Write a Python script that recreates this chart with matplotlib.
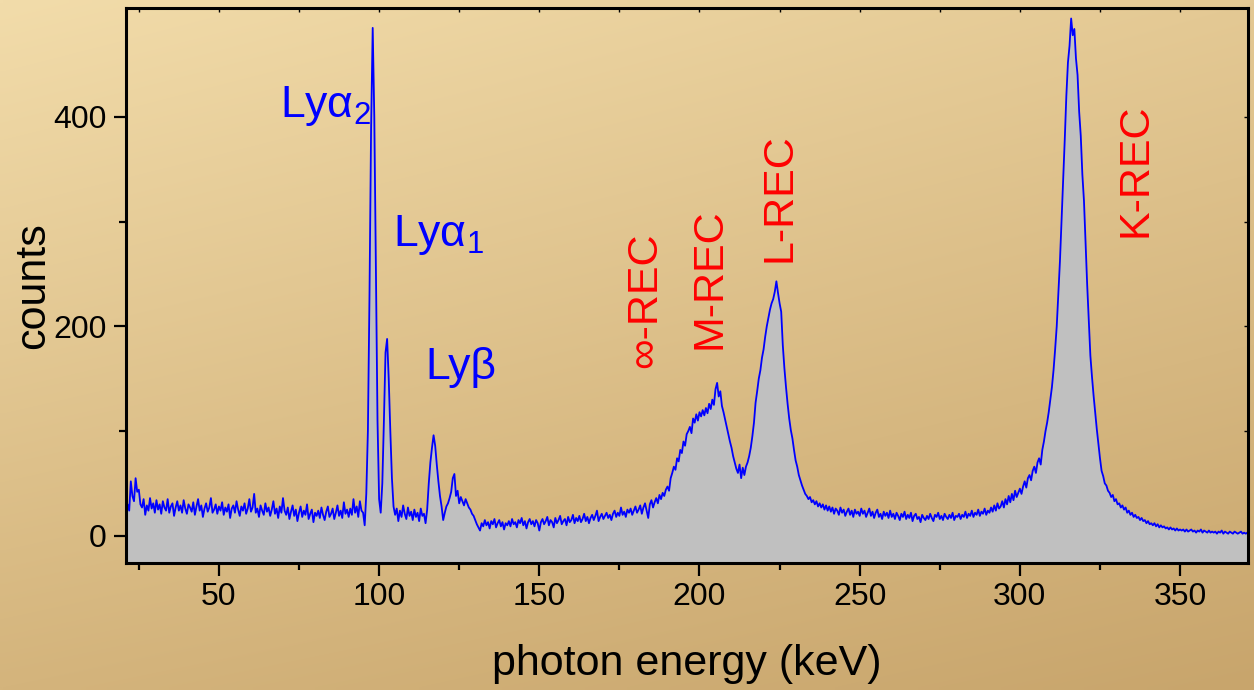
import numpy as np
import matplotlib
matplotlib.use('Agg')
import matplotlib.pyplot as plt
from matplotlib.ticker import MultipleLocator, FixedLocator

plt.rcParams.update({'font.family': ['Liberation Sans', 'DejaVu Sans'],
                     'mathtext.fontset': 'custom',
                     'mathtext.rm': 'Liberation Sans',
                     'mathtext.it': 'Liberation Sans:italic'})

# spectrum, one value per 0.5 keV starting at 21 keV
e_start = 21.0
e_step = 0.5
counts = [
    18, 30, 24, 52, 38, 33, 55, 42, 44, 30, 27, 35, 20, 29, 24, 36, 26, 31, 22, 34,          # 21-30.5
    25, 30, 21, 33, 27, 24, 35, 22, 28, 31, 19, 27, 33, 24, 29, 22, 34, 26, 21, 30,          # 31-40.5
    27, 23, 32, 20, 28, 35, 24, 29, 18, 26, 31, 23, 27, 36, 22, 25, 30, 21, 28, 24,          # 41-50.5
    32, 20, 27, 23, 30, 17, 26, 29, 22, 33, 25, 19, 28, 24, 31, 21, 26, 35, 23, 27,          # 51-60.5
    40, 22, 26, 18, 29, 24, 20, 31, 23, 27, 19, 25, 33, 21, 26, 17, 28, 22, 36, 24,          # 61-70.5
    20, 27, 16, 23, 29, 19, 25, 14, 22, 28, 18, 24, 20, 30, 16, 21, 25, 13, 22, 19,          # 71-80.5
    24, 17, 27, 20, 15, 23, 28, 18, 21, 26, 16, 22, 29, 19, 24, 17, 32, 21, 25, 18,          # 81-90.5
    26, 20, 35, 22, 28, 18, 33, 24, 22, 10, 40, 100, 230, 390, 485, 400, 250, 110, 35, 22,   # 91-100.5
    50, 110, 175, 188, 150, 100, 55, 28, 20, 26, 14, 24, 18, 29, 21, 16, 27, 19, 23, 15,     # 101-110.5
    25, 18, 22, 14, 26, 19, 21, 12, 25, 50, 70, 84, 96, 86, 68, 52, 38, 28, 15, 22,          # 111-120.5
    28, 31, 36, 42, 55, 59, 38, 43, 31, 37, 33, 29, 35, 31, 27, 25, 21, 19, 15, 11,          # 121-130.5
    8, 5, 12, 9, 15, 10, 13, 7, 14, 11, 16, 8, 12, 15, 9, 13, 6, 12, 10, 14,                 # 131-140.5
    9, 16, 11, 13, 8, 15, 12, 17, 10, 14, 7, 13, 16, 11, 14, 9, 15, 12, 5, 13,               # 141-150.5
    16, 11, 14, 18, 10, 15, 13, 8, 17, 12, 15, 19, 11, 14, 16, 10, 18, 13, 15, 20,           # 151-160.5
    12, 17, 14, 19, 13, 16, 21, 14, 18, 12, 17, 20, 15, 19, 24, 14, 18, 21, 16, 19,          # 161-170.5
    22, 17, 20, 15, 21, 24, 18, 22, 19, 27, 20, 23, 18, 25, 22, 26, 20, 24, 28, 22,          # 171-180.5
    25, 29, 21, 27, 31, 24, 17, 30, 34, 27, 32, 36, 31, 39, 35, 41, 38, 44, 47, 43,          # 181-190.5
    55, 60, 66, 63, 74, 71, 82, 79, 90, 86, 97, 100, 104, 98, 112, 108, 116, 110, 118, 114,  # 191-200.5
    120, 115, 122, 117, 126, 121, 130, 125, 140, 146, 133, 138, 124, 118, 111, 104, 97, 90, 84, 76,      # 201-210.5
    70, 64, 60, 68, 55, 65, 58, 66, 70, 76, 84, 95, 108, 127, 138, 150, 158, 170, 178, 190,              # 211-220.5
    200, 208, 216, 222, 226, 233, 243, 232, 222, 214, 182, 160, 142, 126, 112, 101, 93, 82, 72, 66,      # 221-230.5
    58, 53, 48, 44, 40, 38, 35, 37, 32, 34, 30, 33, 28, 31, 27, 30, 25, 29, 24, 28,          # 231-240.5
    23, 27, 21, 26, 24, 20, 27, 22, 25, 19, 23, 26, 20, 24, 18, 25, 21, 23, 19, 26,          # 241-250.5
    21, 24, 18, 22, 26, 19, 23, 17, 22, 25, 18, 21, 16, 23, 19, 22, 17, 24, 18, 21,          # 251-260.5
    16, 22, 19, 15, 21, 18, 23, 16, 20, 17, 22, 14, 19, 21, 16, 18, 13, 20, 17, 15,          # 261-270.5
    19, 16, 21, 17, 14, 20, 18, 22, 16, 19, 15, 21, 18, 16, 20, 17, 22, 15, 19, 18,          # 271-280.5
    21, 16, 20, 18, 23, 17, 21, 19, 24, 18, 22, 20, 25, 19, 23, 21, 26, 20, 24, 22,          # 281-290.5
    27, 23, 29, 24, 31, 26, 28, 33, 27, 35, 30, 38, 32, 40, 34, 43, 37, 41, 45, 40,          # 291-300.5
    47, 52, 46, 55, 58, 53, 62, 66, 60, 70, 74, 68, 82, 90, 100, 108, 118, 130, 142, 158,    # 301-310.5
    178, 200, 232, 262, 300, 340, 378, 420, 452, 468, 494, 478, 484, 456, 440, 405, 382, 345, 320, 280,  # 311-320.5
    240, 205, 172, 152, 134, 118, 102, 88, 74, 62, 57, 50, 48, 43, 41, 37, 39, 33, 35, 30,   # 321-330.5
    31, 27, 29, 25, 27, 22, 24, 20, 22, 18, 20, 17, 18, 15, 17, 14, 15, 12, 14, 11,          # 331-340.5
    12, 10, 12, 9, 11, 8, 10, 8, 9, 7, 8, 6, 8, 6, 7, 5, 7, 5, 6, 5,                         # 341-350.5
    6, 4, 6, 4, 5, 6, 4, 5, 3, 5, 4, 6, 3, 5, 4, 3, 5, 3, 4, 3,                              # 351-360.5
    4, 2, 4, 3, 5, 2, 4, 3, 2, 4, 3, 2, 4, 3, 2, 3, 4, 2, 3, 2,                              # 361-370.5
    3,                                                                                       # 371
]
energy = e_start + e_step * np.arange(len(counts))

# peak labels: text, x (keV), y (counts)
ly_labels = ['Lyα$_2$', 'Lyα$_1$', 'Lyβ']
ly_x = [69.0, 104.4, 114.4]
ly_y = [400, 277, 150]
rec_labels = ['∞-REC', 'M-REC', 'L-REC', 'K-REC']
rec_x = [183, 203, 225, 336]
rec_y = [160, 178, 261, 285]

W, H = 1254, 690
fig = plt.figure(figsize=(W / 100, H / 100), dpi=100)

# tan background gradient over the whole figure
tl = np.array([242, 220, 170]) / 255
tr = np.array([228, 201, 148]) / 255
bl = np.array([212, 180, 124]) / 255
br = np.array([200, 165, 108]) / 255
u = np.linspace(0, 1, 200)[None, :, None]
v = np.linspace(0, 1, 120)[:, None, None]
grad = (1 - v) * ((1 - u) * tl + u * tr) + v * ((1 - u) * bl + u * br)
bg = fig.add_axes([0, 0, 1, 1], zorder=-10)
bg.imshow(grad, aspect='auto', extent=[0, 1, 0, 1], interpolation='bilinear')
bg.axis('off')

ax = fig.add_axes([126 / W, (H - 563) / H, (1248 - 126) / W, (563 - 8) / H])
ax.patch.set_alpha(0)

ylo = -26
ax.fill_between(energy, counts, ylo, color='#C0C0C0', lw=0, zorder=1)
ax.plot(energy, counts, color='#0000FF', lw=1.3, zorder=2)

ax.set_xlim(21, 371.2)
ax.set_ylim(ylo, 504)

for sp in ax.spines.values():
    sp.set_linewidth(2.2)

ax.xaxis.set_major_locator(MultipleLocator(50))
ax.xaxis.set_minor_locator(FixedLocator(np.arange(25, 371, 50)))
ax.yaxis.set_major_locator(MultipleLocator(200))
ax.yaxis.set_minor_locator(FixedLocator([100, 300]))
ax.tick_params(which='major', direction='out', length=9, width=1.6, labelsize=23,
               top=False, right=False)
ax.tick_params(axis='x', which='major', pad=5)
ax.tick_params(axis='y', which='major', pad=5)
ax.tick_params(which='minor', direction='out', length=5, width=1.6, top=False, right=False)

top = ax.secondary_xaxis('top')
top.set_xticks(np.arange(25, 371, 25))
top.tick_params(direction='in', length=3, width=1, labeltop=False)
top.spines['top'].set_visible(False)
right = ax.secondary_yaxis('right')
right.set_yticks([0, 100, 200, 300, 400])
right.tick_params(direction='in', length=3, width=1, labelright=False)
right.spines['right'].set_visible(False)

ax.set_xlabel('photon energy (keV)', fontsize=31, labelpad=23)
ax.set_ylabel('counts', fontsize=31, labelpad=0)

for t, x, y in zip(ly_labels, ly_x, ly_y):
    ax.text(x, y, t, color='#0000FF', fontsize=32, ha='left', va='baseline', zorder=3)
for t, x, y in zip(rec_labels, rec_x, rec_y):
    ax.text(x, y, t, color='#FF0000', fontsize=31, rotation=90, ha='center', va='bottom',
            family=['Liberation Sans', 'DejaVu Sans'], zorder=3)

fig.savefig('out.png', dpi=100)
